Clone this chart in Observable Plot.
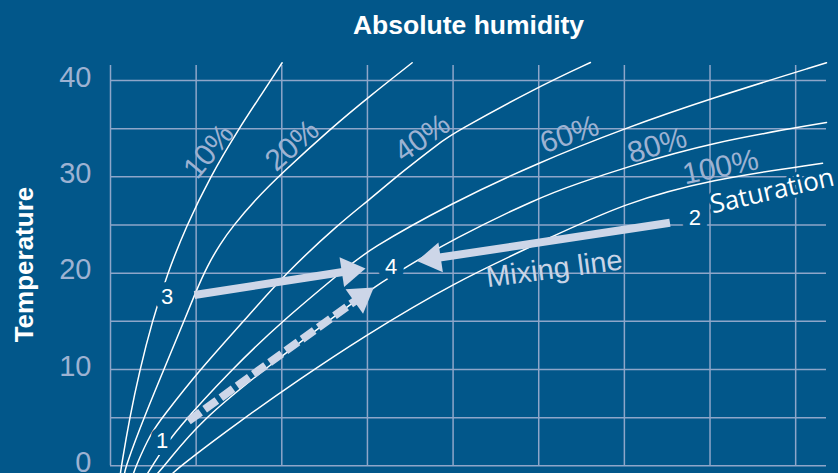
<!DOCTYPE html>
<html>
<head>
<meta charset="utf-8">
<script src="https://cdn.jsdelivr.net/npm/d3@7"></script>
<script src="https://cdn.jsdelivr.net/npm/@observablehq/plot@0.6"></script>
<style>
  html, body { margin: 0; padding: 0; background: #02578a; }
  #chart svg { display: block; }
</style>
</head>
<body>
<div id="chart"></div>
<script>
// ---------- data ----------
const xGrid = [0, 5, 10, 15, 20, 25, 30, 35, 40];
const yGrid = [0, 5, 10, 15, 20, 25, 30, 35, 40];
const yTicks = [0, 10, 20, 30, 40];
const xMax = 41.8;
const gridTop = 41.55;

// relative-humidity curves: [absolute humidity (grid units), temperature]
const rh10 = [[0.58,-0.8],[0.64,0],[1.11,4.94],[1.71,9.97],[2.43,14.98],[3.31,19.93],[4.44,24.95],[5.81,29.98],[7.49,34.99],[8.70,38.24],[10.02,41.84]];
const rh20 = [[0.82,-0.8],[0.90,0],[1.94,4.94],[3.11,9.97],[4.28,14.98],[4.96,17.99],[5.66,20.79],[6.42,23.08],[7.12,24.84],[8.47,27.65],[9.92,30.24],[12.84,34.99],[15.18,38.44],[17.61,41.84]];
const rh40 = [[1.34,-0.8],[1.49,0],[2.34,3.35],[3.02,5.01],[5.20,9.95],[7.76,14.98],[10.22,20.0],[13.43,25.26],[14.99,27.44],[17.12,30.66],[19.27,33.59],[19.95,34.47],[24.91,39.3],[28.02,41.87]];
const rh60 = [[2.16,-0.8],[2.45,0],[2.82,1.07],[3.79,3.66],[7.01,9.89],[9.92,14.88],[13.72,20.48],[14.99,22.35],[19.85,27.23],[24.99,31.49],[29.95,34.99],[34.97,38.1],[41.8,41.84]];
const rh80 = [[2.74,-0.8],[3.15,0],[5.25,4.7],[9.34,10.53],[14.01,16.75],[15.35,18.51],[17.32,20.69],[19.85,23.39],[24.99,27.85],[27.44,29.41],[29.97,30.92],[34.99,33.56],[41.8,35.64]];
const rh100 = [[3.62,-0.8],[4.09,0],[7.59,4.70],[11.09,9.06],[14.60,13.22],[20.02,19.03],[25.69,23.71],[29.97,27.23],[34.99,29.72],[41.57,31.41]];

const curveNames = ["10%", "20%", "40%", "60%", "80%", "100%"];
const curveData = [rh10, rh20, rh40, rh60, rh80, rh100];

// curve labels
const labelText = ["10%", "20%", "40%", "60%", "80%", "100%"];
const labelX = [5.74, 10.61, 18.20, 26.80, 31.92, 35.61];
const labelY = [32.65, 33.25, 34.03, 34.39, 33.25, 31.0];
const labelAngle = [-50, -41, -35, -19, -17, -12];

// state points
const pointName = ["1", "2", "3", "4"];
const pointX = [3.02, 34.11, 3.31, 16.39];
const pointY = [2.55, 25.7, 17.58, 20.62];

// arrows toward point 4
const arrowFrom = ["3", "2", "1"];
const arrowStartX = [4.90, 32.66, 4.55];
const arrowStartY = [17.73, 25.23, 4.65];
const arrowEndX = [14.89, 17.89, 15.37];
const arrowEndY = [20.48, 21.26, 18.51];
const arrowDashed = [false, false, true];

// ---------- styles ----------
const BG = "#02578a";
const GRID = "#8ea6c9";
const PALE = "#9db2d2";
const ARROW = "#cdd6e8";
const FONT = "Liberation Sans, Arial, Helvetica, sans-serif";
const HEAD = 24;

const rows = curveData.flatMap((pts, i) => pts.map(([x, t]) => ({rh: curveNames[i], x, t})));

const base = {
  width: 838, height: 473,
  marginLeft: 110, marginRight: 12, marginTop: 80, marginBottom: 7.7,
  x: {domain: [0, xMax], axis: null},
  y: {domain: [0, 40]}
};

// probe to get pixel scales for arrowhead geometry
const probe = Plot.plot({...base, marks: [Plot.dot(rows, {x: "x", y: "t"})]});
const sx = probe.scale("x"), sy = probe.scale("y");

const arrows = arrowFrom.map((f, i) => {
  const x0 = sx.apply(arrowStartX[i]), y0 = sy.apply(arrowStartY[i]);
  const x1 = sx.apply(arrowEndX[i]), y1 = sy.apply(arrowEndY[i]);
  const dx = x1 - x0, dy = y1 - y0, len = Math.hypot(dx, dy);
  const back = HEAD - 1;
  return {
    from: f,
    x1: arrowStartX[i], y1: arrowStartY[i],
    x2: sx.invert(x1 - dx / len * back), y2: sy.invert(y1 - dy / len * back),
    tipX: arrowEndX[i], tipY: arrowEndY[i],
    angle: Math.atan2(dx, -dy) * 180 / Math.PI,
    dashed: arrowDashed[i]
  };
});

const plot = Plot.plot({
  ...base,
  style: {background: BG, fontFamily: FONT, color: PALE},
  marks: [
    Plot.ruleX(xGrid, {y1: 0, y2: gridTop, stroke: GRID, strokeWidth: 1.5}),
    Plot.ruleY(yGrid, {x1: 0, x2: xMax, stroke: GRID, strokeWidth: 1.5}),
    Plot.line(rows, {x: "x", y: "t", z: "rh", stroke: "white", strokeWidth: 1.5, curve: "basis"}),
    Plot.text(labelText, {
      x: (d, i) => labelX[i], y: (d, i) => labelY[i], rotate: (d, i) => labelAngle[i],
      text: d => d, fontSize: 30, fill: PALE, fontFamily: FONT
    }),
    Plot.text(["Mixing line"], {x: [25.91], y: [20.43], text: d => d, rotate: -7.5, fontSize: 29, fill: "#c9d4e6", fontFamily: FONT}),
    Plot.link(arrows.filter(a => !a.dashed), {x1: "x1", y1: "y1", x2: "x2", y2: "y2", stroke: ARROW, strokeWidth: 8}),
    Plot.link(arrows.filter(a => a.dashed), {x1: "x1", y1: "y1", x2: "x2", y2: "y2", stroke: ARROW, strokeWidth: 8, strokeDasharray: "15,5"}),
    Plot.vector(arrows, {x: "tipX", y: "tipY", rotate: "angle", length: HEAD, anchor: "end", shape: "spike", r: 15, fill: ARROW, stroke: "none"}),
    Plot.text(pointName, {
      x: (d, i) => pointX[i], y: (d, i) => pointY[i], text: d => d,
      fontSize: 22, fill: "white", stroke: BG, strokeWidth: 14, paintOrder: "stroke", fontFamily: FONT
    }),
    Plot.text(["Saturation"], {
      x: [38.63], y: [28.5], text: d => d, rotate: -13, fontSize: 26,
      fill: "white", stroke: BG, strokeWidth: 6, paintOrder: "stroke", fontFamily: "Open Sans, sans-serif"
    }),
    Plot.axisY(yTicks, {tickSize: 0, tickPadding: 19, fontSize: 29, color: PALE, label: null, fontFamily: FONT, dy: -3}),
    Plot.text(["Absolute humidity"], {
      frameAnchor: "top", textAnchor: "middle", lineAnchor: "middle", dy: -55.3,
      text: d => d, fontSize: 26.5, fontWeight: "bold", fill: "white", fontFamily: FONT
    }),
    Plot.text(["Temperature"], {
      frameAnchor: "left", textAnchor: "middle", lineAnchor: "middle", rotate: -90, dx: -86.3, dy: -8.6,
      text: d => d, fontSize: 26, fontWeight: "bold", fill: "white", fontFamily: FONT
    })
  ]
});

document.getElementById("chart").appendChild(plot);
</script>
</body>
</html>
